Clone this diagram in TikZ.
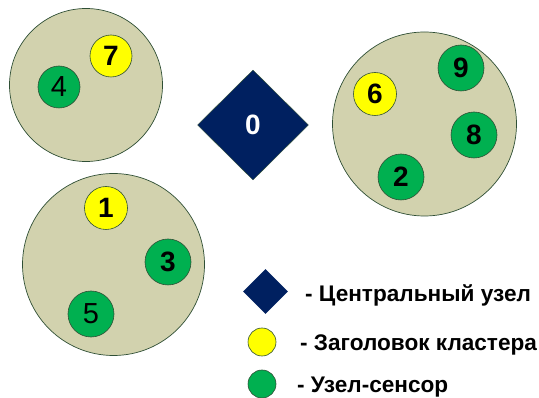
\documentclass[tikz,border=0pt]{standalone}
\usepackage{fontspec}
\setmainfont{Liberation Sans}
\usetikzlibrary{shapes.geometric}
\definecolor{clusterfill}{HTML}{D2D2AE}
\definecolor{edgegreen}{HTML}{2F4F35}
\definecolor{sensorgreen}{HTML}{00B050}
\definecolor{headyellow}{HTML}{FFFF00}
\definecolor{basenavy}{HTML}{002060}
\tikzset{
  cluster/.style={circle, draw=edgegreen, fill=clusterfill, line width=0.7pt, inner sep=0pt},
  head/.style={circle, draw=edgegreen, fill=headyellow, line width=0.6pt, minimum size=43pt, inner sep=0pt, font=\bfseries\fontsize{28}{28}\selectfont},
  sensor/.style={circle, draw=edgegreen, fill=sensorgreen, line width=0.6pt, minimum size=46pt, inner sep=0pt, font=\bfseries\fontsize{28}{28}\selectfont},
  base/.style={diamond, fill=basenavy, draw=edgegreen, line width=0.4pt, inner sep=0pt, text=white, font=\bfseries\fontsize{28}{28}\selectfont},
  legendtext/.style={anchor=base west, inner sep=0pt, font=\bfseries\fontsize{22.6}{22.6}\selectfont}
}
\begin{document}
\begin{tikzpicture}[x=1pt,y=-1pt]
\useasboundingbox (0,0) rectangle (539,398);
% clusters
\node[cluster, minimum size=153pt] (cA) at (86,85) {};
\node[cluster, minimum size=184pt] (cB) at (424.5,124) {};
\node[cluster, minimum size=182pt] (cC) at (113.5,264.5) {};
% central node
\node[base, minimum width=111pt, minimum height=110pt] (n0) at (253,125) {0};
% cluster A
\node[head, minimum size=42pt] (n7) at (111,56) {7};
\node[sensor, minimum size=42pt, font=\fontsize{29}{29}\selectfont] (n4) at (59,87) {4};
% cluster B
\node[head] (n6) at (375,94) {6};
\node[sensor] (n9) at (461,68) {9};
\node[sensor] (n8) at (474,135) {8};
\node[sensor] (n2) at (401,177) {2};
% cluster C
\node[head] (n1) at (106,208) {1};
\node[sensor] (n3) at (168,262) {3};
\node[sensor, font=\fontsize{29}{29}\selectfont] (n5) at (91,314) {5};
% legend
\node[base, minimum size=45pt, draw=none] (lgBase) at (265.5,291.5) {};
\node[legendtext] (lgBaseText) at (305,302) {- Центральный узел};
\node[head, minimum size=28pt] (lgHead) at (262,342) {};
\node[legendtext] (lgHeadText) at (300,351) {- Заголовок кластера};
\node[sensor, minimum size=28pt] (lgSensor) at (262,384) {};
\node[legendtext] (lgSensorText) at (297,392.5) {- Узел-сенсор};
\end{tikzpicture}
\end{document}
